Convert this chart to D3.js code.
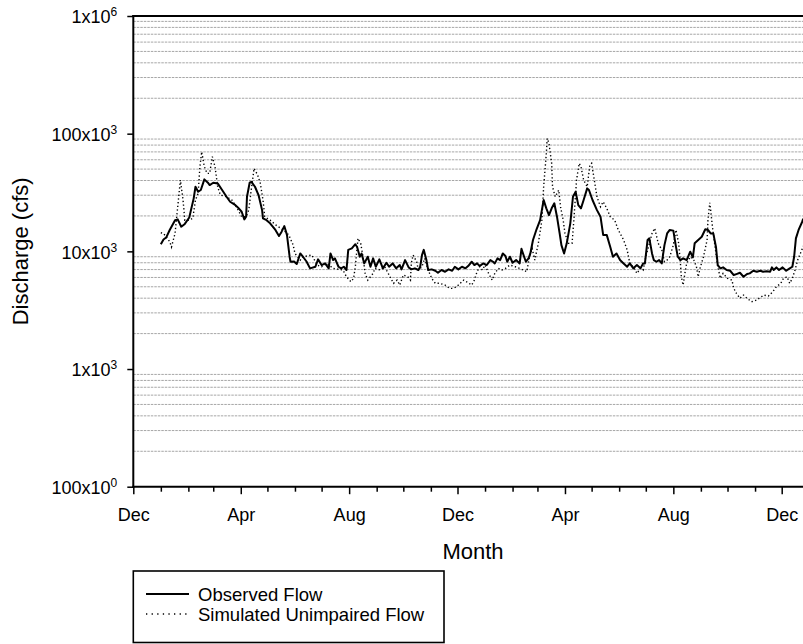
<!DOCTYPE html>
<html>
<head>
<meta charset="utf-8">
<script src="https://cdn.jsdelivr.net/npm/d3@7"></script>
<style>
  body { margin: 0; background: #fff; }
  svg { display: block; }
  text { font-family: "Liberation Sans", Arial, Helvetica, sans-serif; fill: #000; }
</style>
</head>
<body>
<svg id="chart" width="803" height="644"></svg>
<script>
// Daily discharge record, starting 1 December; day = days since that date.
const recordStart = [2005, 11, 1];

// Y axis tick values (cfs) and the month labels shown on the X axis
const yTickValues = [1e2, 1e3, 1e4, 1e5, 1e6];
const monthAbbr = ["Jan","Feb","Mar","Apr","May","Jun","Jul","Aug","Sep","Oct","Nov","Dec"];
const labeledMonths = ["Dec", "Apr", "Aug"];

const xTitle = "Month";
const yTitle = "Discharge (cfs)";
const legendLabels = ["Observed Flow", "Simulated Unimpaired Flow"];

// Observed flow: [day, cfs]
const observed = [
  [31,11500],[34,12600],[37,13100],[41,15200],[47,18400],[50,18700],[54,16200],[58,17100],[63,19400],[68,28200],
  [70,35400],[73,32100],[76,33200],[80,40900],[84,38300],[86,36600],[90,38300],[95,37800],[100,33200],[105,29100],
  [109,26400],[115,24700],[118,23500],[122,21700],[125,18700],[127,19700],[128,29100],[131,38300],[133,39000],[137,35400],
  [141,30100],[145,22400],[146,19100],[150,18400],[154,17300],[160,15200],[164,13500],[167,14700],[170,16400],[173,13800],
  [176,9000],[177,8160],[181,8200],[184,7800],[188,9600],[191,9000],[195,8200],[199,7170],[205,7400],[208,8550],
  [212,7650],[216,7900],[220,7170],[222,9600],[225,8430],[227,8720],[231,7400],[234,7170],[237,7400],[240,6940],
  [242,10300],[246,10600],[250,11500],[252,10900],[255,9000],[257,9600],[260,7900],[264,9000],[267,7400],[270,8720],
  [273,7400],[277,8550],[281,7170],[285,8000],[288,7400],[292,7900],[296,7170],[300,7650],[302,7030],[306,8430],
  [310,7310],[313,7030],[317,7170],[321,6940],[323,7400],[325,9300],[327,10300],[330,8430],[332,6940],[336,7030],
  [340,6840],[343,6580],[347,6940],[351,6710],[355,7030],[359,6840],[362,7400],[366,7030],[370,7400],[374,7170],
  [377,7500],[381,8160],[384,7650],[387,7900],[390,7500],[394,7900],[398,7650],[402,8430],[405,8160],[407,7900],
  [410,8720],[413,8430],[416,9600],[419,9120],[421,8160],[424,9000],[427,8000],[431,8430],[435,7900],[437,10500],
  [440,9000],[442,8160],[445,8720],[447,9600],[450,12500],[454,15400],[458,18400],[462,27300],[465,23200],[468,20300],
  [471,23200],[474,25600],[477,19700],[480,14200],[482,11300],[485,9600],[488,11700],[492,17300],[495,29100],[498,32100],
  [501,24700],[504,23200],[507,27300],[511,34300],[513,33200],[517,27300],[522,22400],[526,19700],[529,13800],[533,13800],
  [537,10900],[540,9000],[544,9600],[548,8430],[552,7900],[556,7400],[559,7900],[563,7170],[567,7650],[571,7170],
  [574,7900],[576,7900],[579,12500],[581,12900],[584,9600],[586,8430],[589,8160],[592,8430],[595,7900],[598,11300],
  [601,14200],[604,15200],[608,15000],[611,10900],[613,9000],[616,8430],[619,8720],[623,8430],[627,9920],[630,8890],
  [632,11700],[636,12500],[640,13300],[644,15400],[647,15200],[650,14200],[653,14200],[656,10900],[658,7650],[661,7170],
  [664,7310],[668,6940],[672,6840],[676,6290],[679,6410],[683,6580],[687,6080],[691,6410],[694,6500],[698,6840],
  [702,6710],[706,6840],[709,6710],[713,6760],[717,6710],[719,7310],[721,6940],[724,7310],[727,6940],[731,7310],
  [735,6840],[739,7170],[742,7400],[744,9000],[746,12900],[749,15200],[753,17800],[754,18700],[757,19800]
];

// Simulated unimpaired flow: [day, cfs]
const simulated = [
  [31,14400],[34,14200],[41,12100],[43,10900],[47,14200],[50,23900],[53,40400],[56,27300],[58,18400],[63,18400],
  [67,19100],[70,27300],[73,31100],[75,52400],[77,70200],[80,52400],[83,46000],[86,46000],[89,63700],[92,52400],
  [95,35400],[98,30100],[105,29100],[111,27300],[117,23200],[122,19700],[127,19700],[130,22400],[133,34300],[136,50700],
  [140,44500],[143,37800],[146,27300],[148,19700],[154,18400],[162,16400],[169,15200],[175,13800],[180,11300],[182,9600],
  [188,8430],[191,9000],[201,9300],[207,7650],[212,7400],[218,7900],[225,7170],[236,6940],[240,6080],[245,5520],
  [248,5890],[250,7400],[252,10900],[253,12900],[256,11700],[258,9600],[261,6500],[264,5700],[267,6080],[270,6500],
  [272,7170],[278,6940],[283,7400],[287,6500],[290,5890],[293,5350],[297,5700],[300,5170],[304,6290],[309,6080],
  [312,5700],[313,7900],[315,9300],[319,8160],[321,6940],[325,7400],[328,8720],[332,6940],[336,5890],[340,5350],
  [345,5350],[351,5170],[356,4850],[360,4850],[364,5000],[368,5350],[372,5700],[375,5520],[381,5170],[384,5700],
  [387,6710],[390,7400],[393,6940],[396,7650],[400,6500],[404,5700],[407,6500],[411,7170],[415,6940],[419,7170],
  [424,7650],[430,7400],[435,7170],[439,6940],[443,6710],[446,9000],[449,10600],[452,8430],[456,11700],[460,18400],
  [462,35400],[465,68000],[466,91200],[468,82700],[471,56000],[472,35400],[475,29100],[479,33200],[481,23900],[484,18400],
  [486,14200],[490,11700],[494,11700],[496,18400],[499,40400],[502,56000],[504,52400],[507,40400],[511,35400],[514,54100],
  [516,56000],[519,40400],[522,29100],[526,23900],[529,26400],[533,23200],[537,19700],[542,18400],[546,15200],[552,12500],
  [556,10300],[559,7900],[564,7170],[567,6500],[571,7170],[574,6940],[577,9000],[580,10900],[584,14200],[587,15700],
  [591,11700],[595,10300],[598,8160],[601,8430],[604,9000],[608,11300],[611,15200],[614,11700],[616,7900],[617,6080],
  [619,5170],[621,6500],[623,7900],[627,9000],[631,8430],[634,7400],[636,6080],[638,7170],[642,9000],[646,12500],
  [647,18400],[649,25900],[650,22400],[652,16200],[655,10900],[658,7400],[661,5890],[664,6500],[669,5890],[674,5700],
  [676,4850],[679,4400],[683,3990],[687,4250],[691,3990],[696,3730],[702,3860],[706,4060],[710,4250],[715,4170],
  [720,4540],[724,5000],[729,5350],[732,5890],[736,6080],[739,5350],[742,5890],[745,6940],[748,8430],[751,9600],
  [754,10900],[757,12000]
];

// ---- layout ----
const W = 803, H = 644;
const plotLeft = 133.3, plotTop = 16, plotBottom = 486.7, plotRight = W;

const svg = d3.select("#chart");

const t0 = new Date(Date.UTC(...recordStart));
const toDate = d => d3.utcDay.offset(t0, d);

const x = d3.scaleUtc()
  .domain([t0, d3.utcYear.offset(t0, 2)])
  .range([plotLeft, 781.7]);
const y = d3.scaleLog().domain([1e2, 1e6]).range([plotBottom, plotTop]);

// ---- minor horizontal grid lines (2..9 within each decade) ----
const gridValues = [];
for (let dec = 1e2; dec < 1e6; dec *= 10) {
  for (let k = 2; k <= 9; k++) gridValues.push(k * dec);
}
svg.append("g").selectAll("line").data(gridValues).join("line")
  .attr("x1", plotLeft).attr("x2", plotRight)
  .attr("y1", d => y(d)).attr("y2", d => y(d))
  .attr("stroke", "#a6a6a6").attr("stroke-width", 1)
  .attr("stroke-dasharray", "2.5,1");

// ---- data lines ----
svg.append("clipPath").attr("id", "plotClip")
  .append("rect").attr("x", plotLeft).attr("y", plotTop)
  .attr("width", plotRight - plotLeft).attr("height", plotBottom - plotTop);

const line = d3.line()
  .x(d => x(toDate(d[0])))
  .y(d => y(d[1]));

const plot = svg.append("g").attr("clip-path", "url(#plotClip)");
plot.append("path").datum(simulated)
  .attr("d", line).attr("fill", "none")
  .attr("stroke", "#000").attr("stroke-width", 1.4)
  .attr("stroke-dasharray", "1.3,2.4");
plot.append("path").datum(observed)
  .attr("d", line).attr("fill", "none")
  .attr("stroke", "#000").attr("stroke-width", 2)
  .attr("stroke-linejoin", "round");

// ---- X axis: a tick every month, longer labelled ticks every four months ----
const months = d3.utcMonth.range(t0, toDate(760));
const isLabeled = d => labeledMonths.includes(monthAbbr[d.getUTCMonth()]);

const xAxis = svg.append("g")
  .attr("transform", `translate(0,${plotBottom})`)
  .call(d3.axisBottom(x).tickValues(months).tickSize(5).tickSizeOuter(0)
    .tickFormat(d => isLabeled(d) ? monthAbbr[d.getUTCMonth()] : ""));
xAxis.select(".domain").remove();
xAxis.selectAll(".tick line").attr("stroke-width", 1.5)
  .attr("y2", d => isLabeled(d) ? 7.5 : 5);
xAxis.selectAll(".tick text")
  .attr("y", 34.5).attr("dy", 0)
  .style("font-size", "18px");

// ---- Y axis with engineering-notation labels ----
const yAxis = svg.append("g")
  .attr("transform", `translate(${plotLeft},0)`)
  .call(d3.axisLeft(y).tickValues(yTickValues).tickSize(6).tickSizeOuter(0).tickFormat(""));
yAxis.select(".domain").remove();
yAxis.selectAll(".tick line").attr("stroke-width", 1.5);

yAxis.selectAll(".tick").append("text")
  .attr("x", -16).attr("dy", "0.38em")
  .attr("text-anchor", "end")
  .style("font-size", "18px")
  .each(function (v) {
    const e = Math.floor(Math.round(Math.log10(v)) / 3) * 3;
    const mant = Math.round(v / Math.pow(10, e));
    const t = d3.select(this);
    t.append("tspan").text(mant + "x10");
    t.append("tspan").attr("dy", -7).style("font-size", "12px").text(e);
  });

// ---- frame lines ----
const frame = svg.append("g").attr("stroke", "#000").attr("stroke-width", 2);
frame.append("line").attr("x1", plotLeft).attr("x2", plotLeft)
  .attr("y1", plotTop - 1).attr("y2", plotBottom + 1);
frame.append("line").attr("x1", plotLeft - 1).attr("x2", plotRight)
  .attr("y1", plotBottom).attr("y2", plotBottom);
frame.append("line").attr("x1", plotLeft - 1).attr("x2", plotRight)
  .attr("y1", plotTop).attr("y2", plotTop);

// ---- axis titles ----
svg.append("text")
  .attr("x", 473).attr("y", 559)
  .attr("text-anchor", "middle")
  .style("font-size", "22px")
  .text(xTitle);

svg.append("text")
  .attr("transform", `translate(28,${(plotTop + plotBottom) / 2}) rotate(-90)`)
  .attr("text-anchor", "middle")
  .style("font-size", "22px")
  .text(yTitle);

// ---- legend ----
const legend = svg.append("g");
legend.append("rect")
  .attr("x", 133.3).attr("y", 571).attr("width", 310.7).attr("height", 71.5)
  .attr("fill", "#fff").attr("stroke", "#000").attr("stroke-width", 1.6);

const legendStyles = [
  { width: 2, dash: null },
  { width: 1.4, dash: "1.3,4.3" }
];
legendLabels.forEach((label, i) => {
  const ly = 594 + i * 20;
  legend.append("line")
    .attr("x1", 146).attr("x2", 189).attr("y1", ly).attr("y2", ly)
    .attr("stroke", "#000").attr("stroke-width", legendStyles[i].width)
    .attr("stroke-dasharray", legendStyles[i].dash);
  legend.append("text")
    .attr("x", 198).attr("y", ly + 6.5)
    .style("font-size", "18.5px")
    .text(label);
});
</script>
</body>
</html>
